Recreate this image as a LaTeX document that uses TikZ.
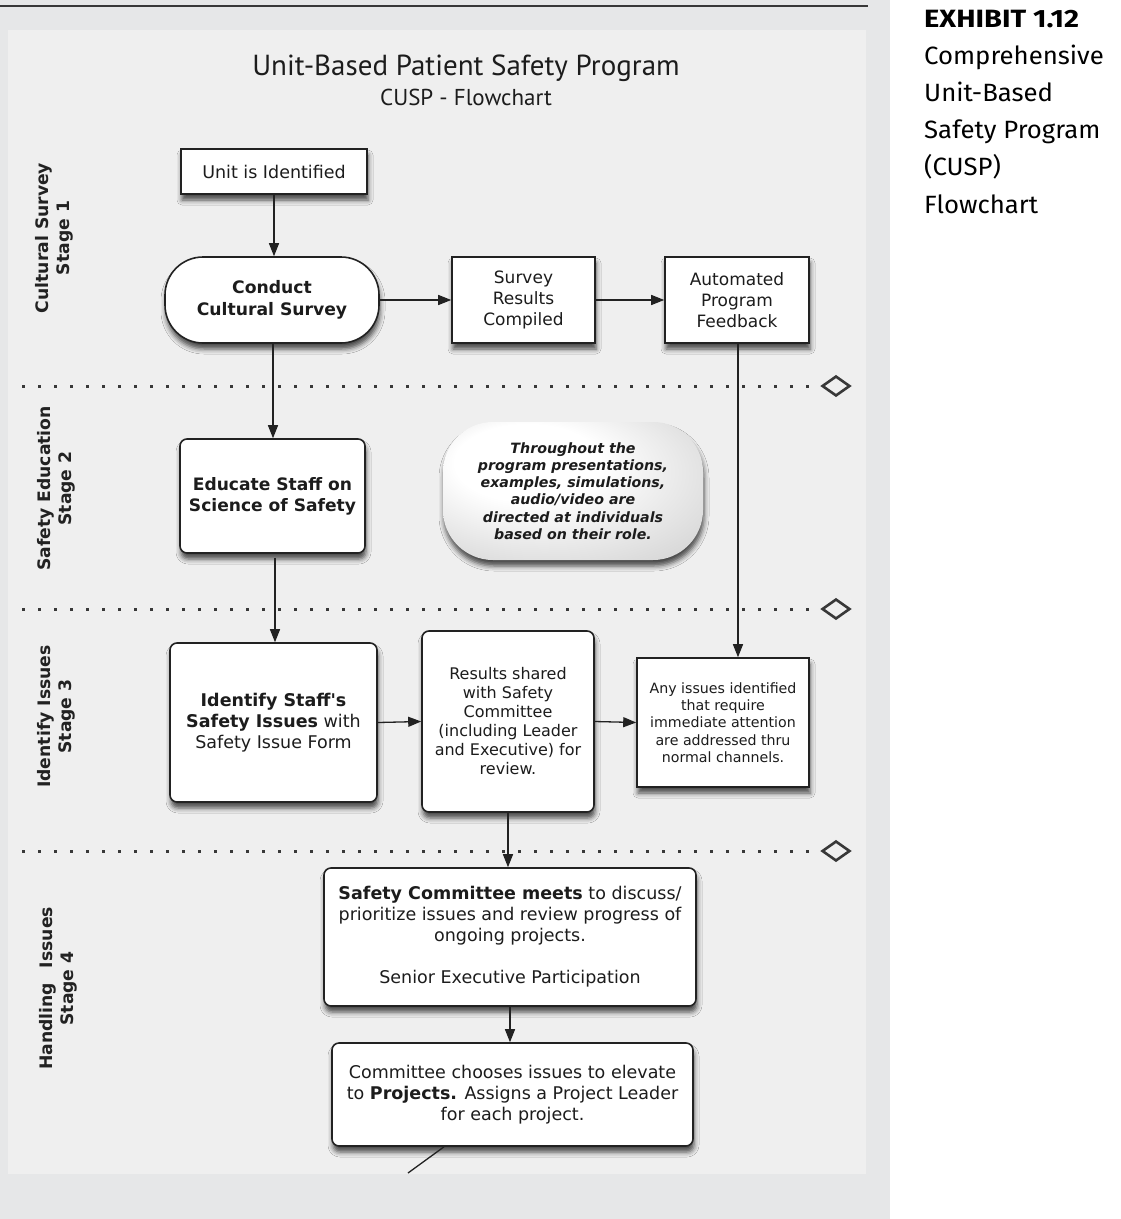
\documentclass[tikz,border=0pt]{standalone}
\usepackage{graphicx}
\usepackage{fontspec}
\setmainfont{DejaVu Sans}
\newfontfamily\titlefont{PT Sans}
\newfontfamily\exhibitfont{Fira Sans}
\usetikzlibrary{arrows.meta,shadows.blur,shapes.geometric}

\definecolor{pagegray}{HTML}{E6E7E8}
\definecolor{panelgray}{HTML}{EFEFEF}
\definecolor{ink}{HTML}{222222}
\definecolor{textink}{HTML}{1C1C1C}

% soft gray bubble fill, brightest towards the upper left
\pgfdeclareradialshading{bubbleshade}{\pgfpoint{-12bp}{14bp}}{%
  color(0bp)=(white); color(14bp)=(white); color(40bp)=(black!18); color(52bp)=(black!34)}

\begin{document}
\begin{tikzpicture}[x=1pt,y=-1pt,
  every node/.style={text=textink},
  boxshadow/.style={blur shadow={shadow xshift=1pt, shadow yshift=-6pt,
      shadow blur radius=5pt, shadow opacity=70}},
  box/.style={draw=ink, line width=1.6pt, fill=white, align=center,
      inner sep=0pt, boxshadow},
  roundbox/.style={box, rounded corners=7pt},
  flow/.style={draw=ink, line width=1.3pt, -{Triangle[length=13pt,width=10pt]}},
  plainline/.style={draw=ink, line width=1.3pt},
  stagesep/.style={draw=ink!90, line width=3pt, dash pattern=on 3pt off 13pt},
  marker/.style={diamond, draw=ink!90, line width=2.6pt, fill=panelgray,
      minimum width=28pt, minimum height=20pt, inner sep=0pt},
  stagelabel/.style={rotate=90, align=center, text=ink,
      font=\fontsize{17.2}{21}\selectfont\bfseries},
  txt/.style={font=\fontsize{17.5}{21}\selectfont},
  captionline/.style={anchor=base west, text=black, inner sep=0pt,
      font=\exhibitfont\fontsize{25}{30}\selectfont},
]
\useasboundingbox (0,0) rectangle (1121,1219);

% page and panel backgrounds
\fill[white] (0,0) rectangle (1121,1219);
\fill[pagegray] (0,0) rectangle (890,1219);
\fill[panelgray] (8,30) rectangle (866,1174);
\draw[ink!90, line width=2pt] (0,6) -- (868,6);

% caption beside the panel
\node[captionline] (cap1) at (924,27) {\scalebox{1.16}[1]{\bfseries EXHIBIT 1.12}};
\node[captionline] (cap2) at (924,64) {\scalebox{1.03}[1]{Comprehensive}};
\node[captionline] (cap3) at (924,101) {\scalebox{1.03}[1]{Unit-Based}};
\node[captionline] (cap4) at (924,138.5) {\scalebox{1.03}[1]{Safety Program}};
\node[captionline] (cap5) at (924,175.5) {\scalebox{1.03}[1]{(CUSP)}};
\node[captionline] (cap6) at (924,213) {\scalebox{1.03}[1]{Flowchart}};

% heading
\node[anchor=base, font=\titlefont\fontsize{29}{32}\selectfont] (title) at (466,75)
  {Unit-Based Patient Safety Program};
\node[anchor=base, font=\titlefont\fontsize{23}{26}\selectfont] (subtitle) at (466,105)
  {CUSP - Flowchart};

% stage separators
\node[marker] (m1) at (836,386) {};
\node[marker] (m2) at (836,609) {};
\node[marker] (m3) at (836,851) {};
\coordinate (s1) at (22,386);
\coordinate (s2) at (22,609);
\coordinate (s3) at (22,851);
\draw[stagesep] (s1) -- (m1.west);
\draw[stagesep] (s2) -- (m2.west);
\draw[stagesep] (s3) -- (m3.west);

% stage labels
\node[stagelabel] (st1) at (54,238) {Cultural Survey\\Stage 1};
\node[stagelabel] (st2) at (56.5,488.5) {Safety Education\\Stage 2};
\node[stagelabel] (st3) at (56.5,716.5) {Identify Issues\\Stage 3};
\node[stagelabel] (st4) at (58.5,988.5) {Handling\hspace{9pt} Issues\\Stage 4};

% stage 1
\node[box, txt, minimum width=186pt, minimum height=45pt] (unit) at (274,171.5)
  {Unit is Identified};
\node[box, rounded corners=38pt, minimum width=214pt, minimum height=86pt,
      font=\fontsize{17.2}{22}\selectfont\bfseries] (conduct) at (272,300)
  {Conduct\\Cultural Survey};
\node[box, minimum width=143pt, minimum height=86pt,
      font=\fontsize{17}{21}\selectfont] (compiled) at (523.5,300)
  {Survey\\Results\\Compiled};
\node[box, minimum width=144pt, minimum height=86pt,
      font=\fontsize{17}{21}\selectfont] (feedback) at (737,300)
  {Automated\\Program\\Feedback};

% stage 2
\node[roundbox, minimum width=185pt, minimum height=114pt,
      font=\fontsize{17.1}{21}\selectfont\bfseries] (educate) at (272.5,496)
  {Educate Staff on\\Science of Safety};
\node[draw=none, rounded corners=50pt, shading=bubbleshade, align=center,
      minimum width=260pt, minimum height=138pt, inner sep=0pt, boxshadow,
      font=\fontsize{14.2}{17.3}\selectfont\bfseries\itshape] (bubble) at (573,491)
  {Throughout the\\program presentations,\\examples, simulations,\\audio/video are\\directed at individuals\\based on their role.};

% stage 3
\node[roundbox, txt, minimum width=207pt, minimum height=159pt] (identify) at (273.5,722.5)
  {\textbf{Identify Staff\textquotesingle s}\\\textbf{Safety Issues} with\\Safety Issue Form};
\node[roundbox, minimum width=172pt, minimum height=181pt,
      font=\fontsize{16}{19}\selectfont] (shared) at (508,721.5)
  {Results shared\\with Safety\\Committee\\(including Leader\\and Executive) for\\review.};
\node[box, minimum width=172pt, minimum height=129pt,
      font=\fontsize{14.2}{17.2}\selectfont] (channels) at (723,722.5)
  {Any issues identified\\that require\\immediate attention\\are addressed thru\\normal channels.};

% stage 4
\node[roundbox, txt, minimum width=372pt, minimum height=138pt] (meets) at (510,937)
  {\textbf{Safety Committee meets} to discuss/\\prioritize issues and review progress of\\ongoing projects.\\[21pt]Senior Executive Participation};
\node[roundbox, txt, minimum width=361pt, minimum height=103pt] (projects) at (512.5,1094.5)
  {Committee chooses issues to elevate\\to \textbf{Projects.} Assigns a Project Leader\\for each project.};

% connectors
\draw[flow] (unit.south) -- (unit.south |- conduct.north);
\draw[flow] (conduct.east) -- (compiled.west);
\draw[flow] (compiled.east) -- (feedback.west);
\draw[flow] ([xshift=1pt]conduct.south) -- ([xshift=1pt]conduct.south |- educate.north);
\draw[flow] ([xshift=2.5pt,yshift=-4pt]educate.south) -- ([xshift=2.5pt]educate.south |- identify.north);
\draw[flow] ([xshift=1pt]feedback.south) -- ([xshift=1pt]feedback.south |- channels.north);
\draw[flow] (identify.east) -- (shared.west);
\draw[flow] (shared.east) -- (channels.west);
\draw[flow] (shared.south) -- (shared.south |- meets.north);
\draw[flow] ([xshift=-2.5pt]projects.north |- meets.south) -- ([xshift=-2.5pt]projects.north);
\coordinate (onward) at (408,1173);
\draw[plainline] ([xshift=-68.5pt]projects.south) -- (onward);
\end{tikzpicture}
\end{document}
